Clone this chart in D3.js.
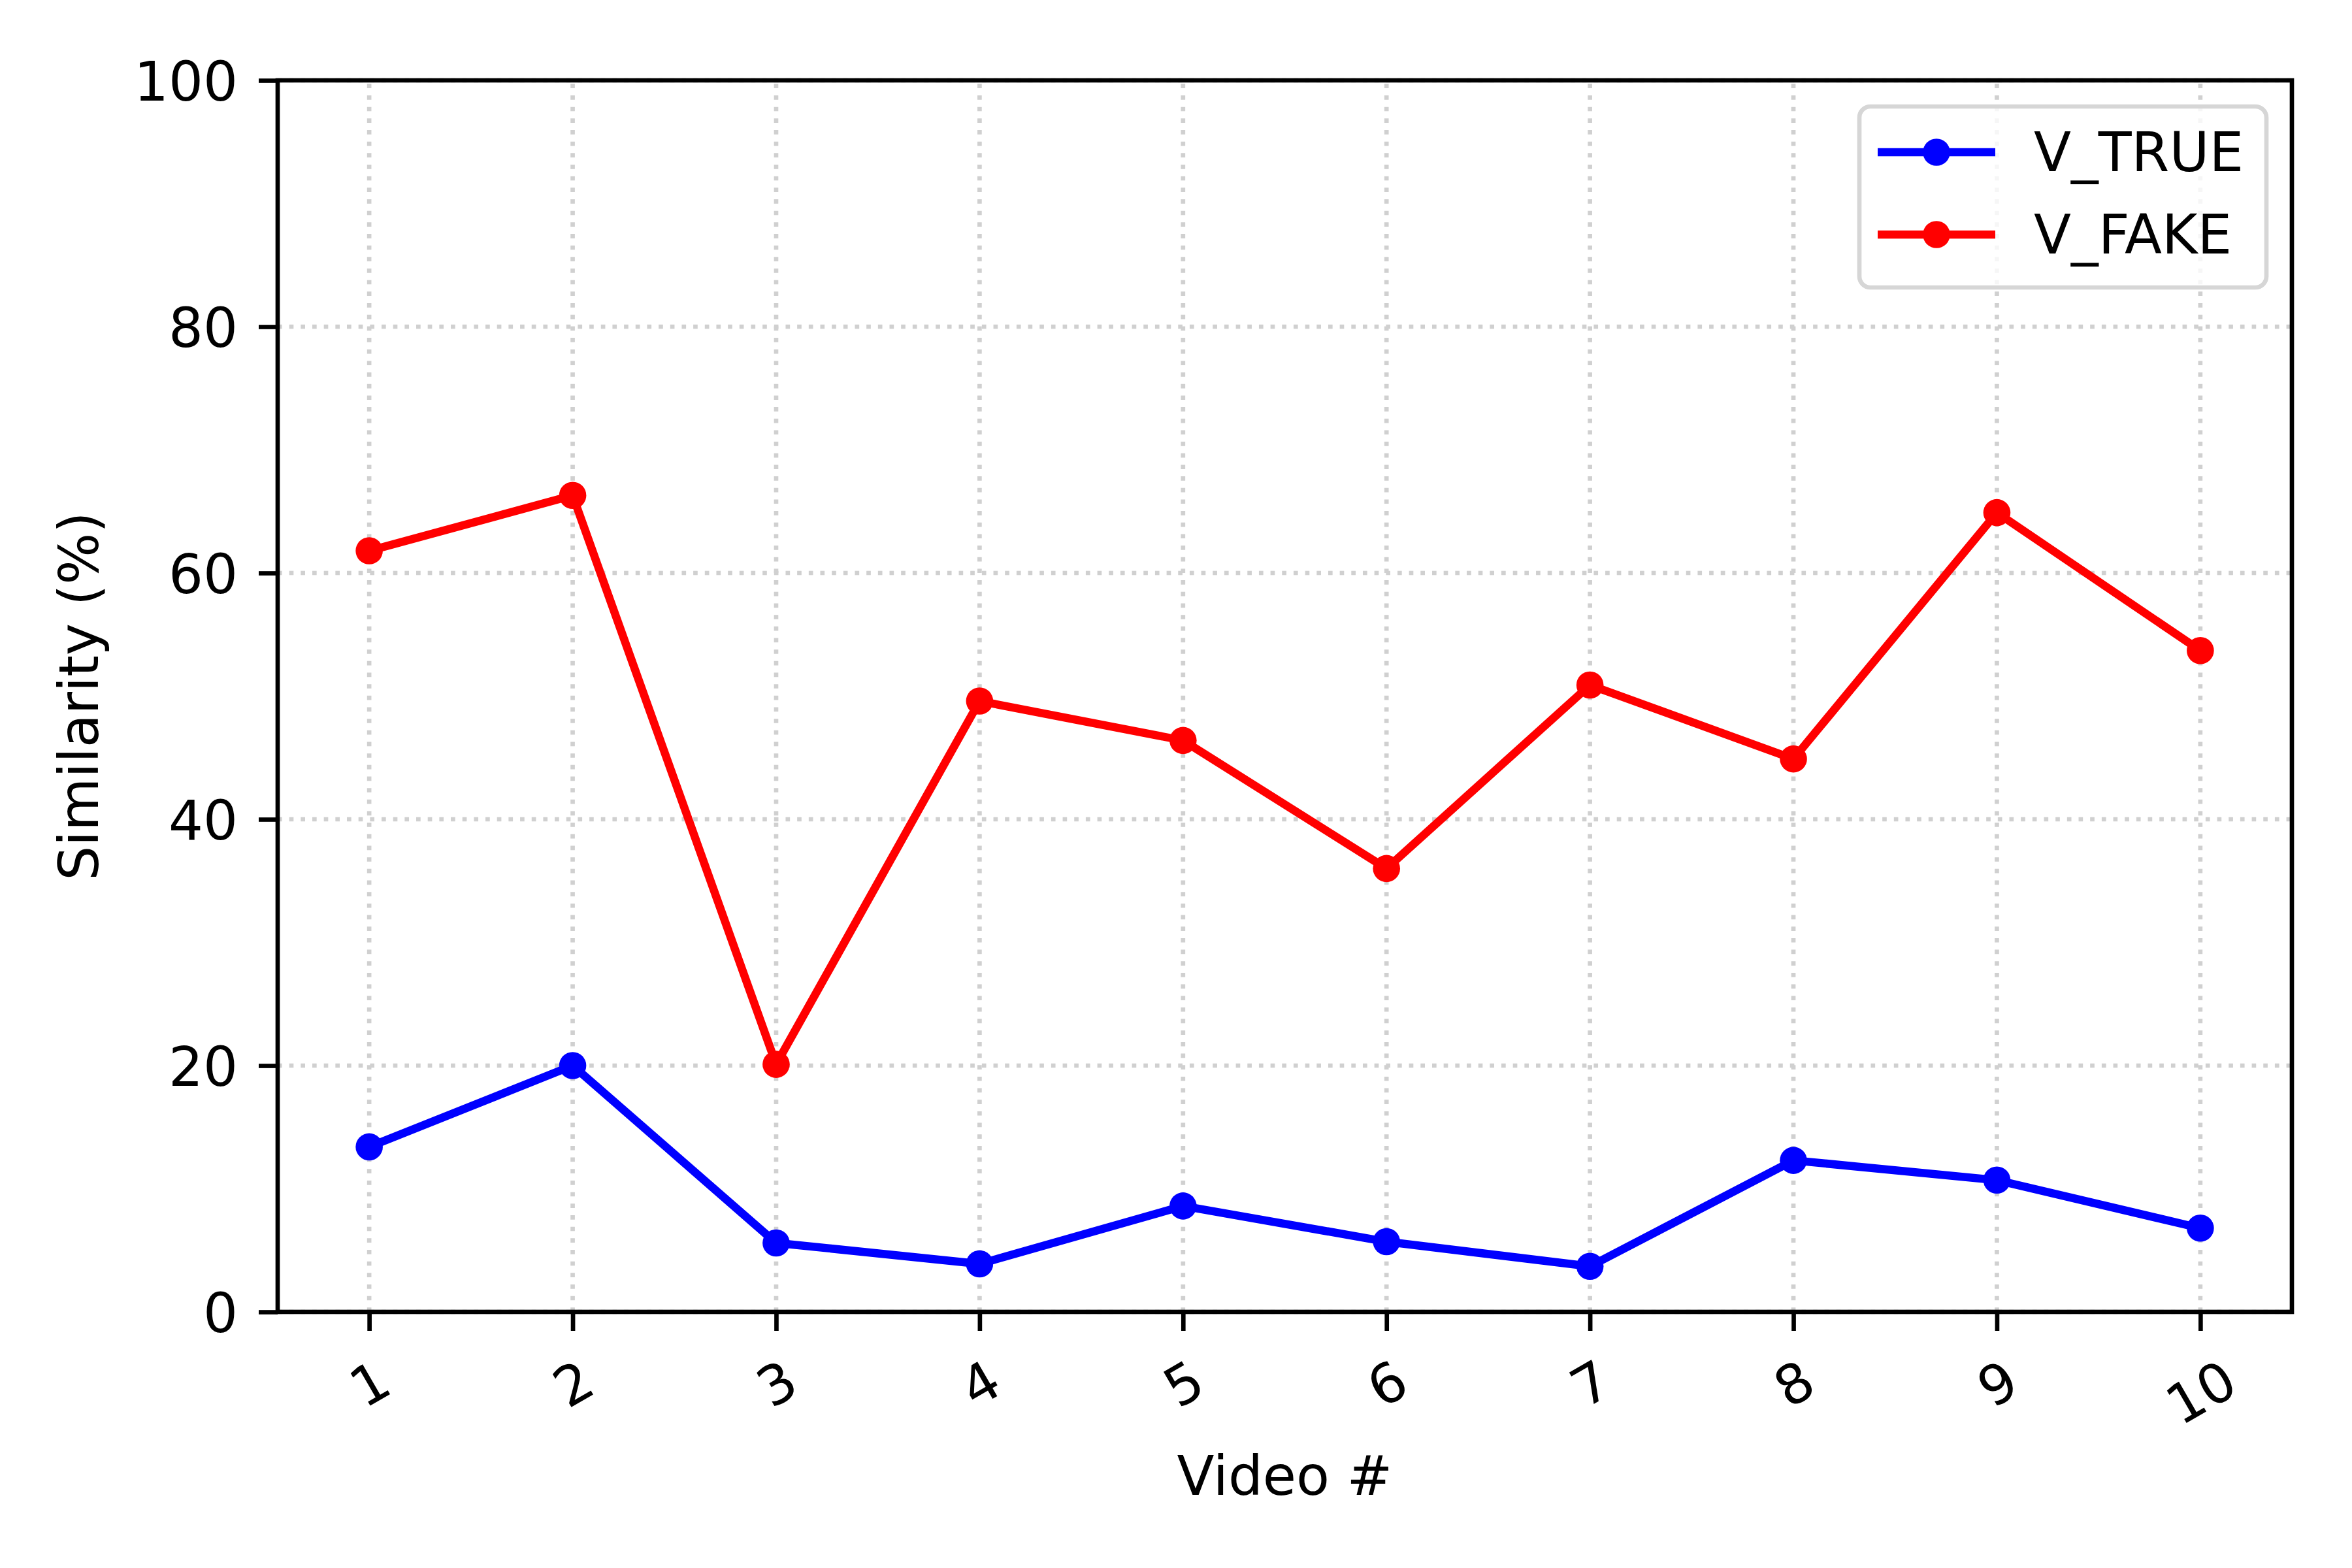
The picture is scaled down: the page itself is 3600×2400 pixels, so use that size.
<!DOCTYPE html>
<html><head><meta charset="utf-8">
<script src="https://cdn.jsdelivr.net/npm/d3@7"></script>
<style>body{margin:0;background:#fff}</style>
</head><body><svg id="c" width="3600" height="2400" xmlns="http://www.w3.org/2000/svg"></svg>
<script>
const videos = [1, 2, 3, 4, 5, 6, 7, 8, 9, 10];
const vTrue = [13.4, 20.0, 5.6, 3.9, 8.6, 5.7, 3.7, 12.3, 10.7, 6.8];
const vFake = [61.8, 66.3, 20.1, 49.6, 46.4, 36.0, 50.9, 44.9, 64.9, 53.7];
const yTicks = [0, 20, 40, 60, 80, 100];
const seriesNames = ["V_TRUE", "V_FAKE"];
const seriesColors = ["#0000ff", "#ff0000"];
const xLabel = "Video #";
const yLabel = "Similarity (%)";

const W = 3600, H = 2400;
const m = {left: 425, right: 3508, top: 123, bottom: 2008};
const FS = 83.33;
const LW = 6.67;
const font = "'DejaVu Sans', sans-serif";
const svg = d3.select("#c");
svg.append("rect").attr("width", W).attr("height", H).attr("fill", "#fff");

const x = d3.scaleLinear().domain([0.55, 10.45]).range([m.left, m.right]);
const y = d3.scaleLinear().domain([0, 100]).range([m.bottom, m.top]);

// grid
const grid = svg.append("g").attr("stroke", "#d0d0d0").attr("stroke-width", LW)
  .attr("stroke-dasharray", "6.67 11");
grid.selectAll("line.gv").data(videos).join("line").attr("class", "gv")
  .attr("x1", d => x(d)).attr("x2", d => x(d)).attr("y1", m.bottom).attr("y2", m.top);
grid.selectAll("line.gh").data(yTicks).join("line").attr("class", "gh")
  .attr("y1", d => y(d)).attr("y2", d => y(d)).attr("x1", m.left).attr("x2", m.right);

// series
const series = [vTrue, vFake];
const line = d3.line().x((d, i) => x(videos[i])).y(d => y(d));
series.forEach((vals, si) => {
  const g = svg.append("g");
  g.append("path").datum(vals).attr("d", line).attr("fill", "none")
    .attr("stroke", seriesColors[si]).attr("stroke-width", 12.5)
    .attr("stroke-linejoin", "round").attr("stroke-linecap", "square");
  g.selectAll("circle").data(vals).join("circle")
    .attr("cx", (d, i) => x(videos[i])).attr("cy", d => y(d)).attr("r", 20.8)
    .attr("fill", seriesColors[si]);
});

// axes
const xAxis = d3.axisBottom(x).tickValues(videos).tickSize(29).tickSizeOuter(0).tickFormat(d3.format("d"));
const gx = svg.append("g").attr("transform", `translate(0,${m.bottom})`).call(xAxis);
gx.select(".domain").remove();
gx.selectAll(".tick line").attr("stroke", "#000").attr("stroke-width", LW);
gx.selectAll(".tick text").attr("font-family", font).attr("font-size", FS).attr("fill", "#000")
  .attr("text-anchor", "middle").attr("y", 0).attr("dy", "0.3645em")
  .each(function() {
    const w = this.getComputedTextLength();
    const hb = w * 0.5 + FS * 1.164 * 0.866;
    const off = 58 + hb / 2 - 4;
    d3.select(this).attr("transform", `translate(0,${off}) rotate(-30)`);
  });

const yAxis = d3.axisLeft(y).tickValues(yTicks).tickSize(29).tickSizeOuter(0).tickFormat(d3.format("d"));
const gy = svg.append("g").attr("transform", `translate(${m.left},0)`).call(yAxis);
gy.select(".domain").remove();
gy.selectAll(".tick line").attr("stroke", "#000").attr("stroke-width", LW);
gy.selectAll(".tick text").attr("font-family", font).attr("font-size", FS).attr("fill", "#000")
  .attr("text-anchor", "end").attr("x", -61).attr("dy", "0.3645em");

// frame
svg.append("rect").attr("x", m.left).attr("y", m.top)
  .attr("width", m.right - m.left).attr("height", m.bottom - m.top)
  .attr("fill", "none").attr("stroke", "#000").attr("stroke-width", LW);

// axis labels
svg.append("text").text(xLabel).attr("x", (m.left + m.right) / 2).attr("y", 2288)
  .attr("text-anchor", "middle").attr("font-family", font).attr("font-size", FS).attr("fill", "#000");
svg.append("text").text(yLabel)
  .attr("transform", `translate(150,${(m.top + m.bottom) / 2}) rotate(-90)`)
  .attr("text-anchor", "middle").attr("font-family", font).attr("font-size", FS).attr("fill", "#000");

// legend
const leg = svg.append("g");
leg.append("rect").attr("x", 2846).attr("y", 163).attr("width", 623).attr("height", 277)
  .attr("rx", 17).attr("ry", 17).attr("fill", "#fff").attr("fill-opacity", 0.8)
  .attr("stroke", "#d6d6d6").attr("stroke-width", LW);
seriesNames.forEach((name, i) => {
  const ry = 233 + i * 126;
  leg.append("line").attr("x1", 2874).attr("x2", 3054).attr("y1", ry).attr("y2", ry)
    .attr("stroke", seriesColors[i]).attr("stroke-width", 12.5);
  leg.append("circle").attr("cx", 2964).attr("cy", ry).attr("r", 20.8).attr("fill", seriesColors[i]);
  leg.append("text").text(name).attr("x", 3113).attr("y", ry + 29)
    .attr("font-family", font).attr("font-size", FS).attr("fill", "#000");
});
</script></body></html>
